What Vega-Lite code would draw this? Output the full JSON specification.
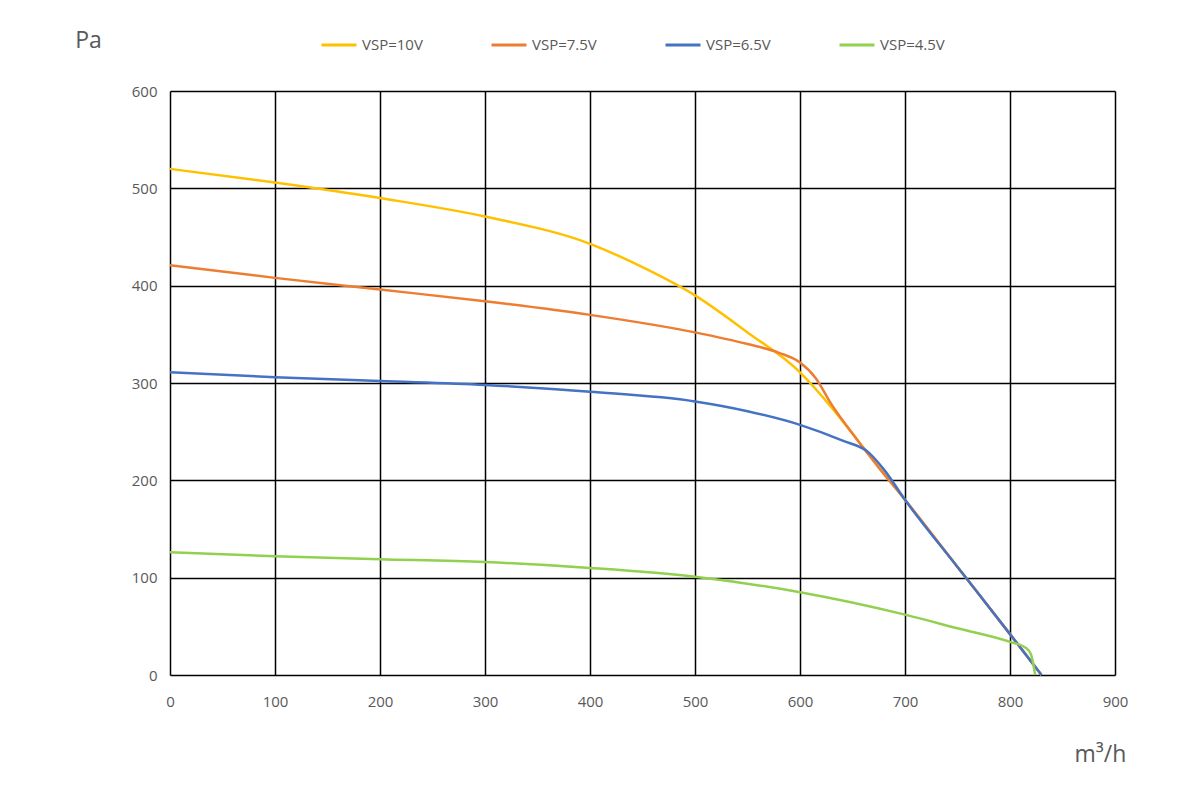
{
  "$schema": "https://vega.github.io/schema/vega-lite/v6.json",
  "autosize": "none",
  "width": 945,
  "height": 584,
  "padding": {"left": 170, "top": 91, "right": 85, "bottom": 125},
  "background": "white",
  "config": {
    "font": "Open Sans",
    "view": {"stroke": null},
    "axis": {
      "labelColor": "#595959",
      "labelFontSize": 15,
      "labelFlush": false,
      "titleColor": "#595959",
      "titleFontSize": 23,
      "titleFontWeight": "normal",
      "gridColor": "#000000",
      "gridOpacity": 1,
      "gridWidth": 1.5,
      "domain": false,
      "ticks": false
    }
  },
  "data": {
    "values": [
      {"series": "VSP=10V", "flow": 0, "pa": 520},
      {"series": "VSP=10V", "flow": 100, "pa": 506},
      {"series": "VSP=10V", "flow": 200, "pa": 490},
      {"series": "VSP=10V", "flow": 300, "pa": 471},
      {"series": "VSP=10V", "flow": 400, "pa": 443},
      {"series": "VSP=10V", "flow": 450, "pa": 419},
      {"series": "VSP=10V", "flow": 500, "pa": 390},
      {"series": "VSP=10V", "flow": 550, "pa": 352},
      {"series": "VSP=10V", "flow": 600, "pa": 311},
      {"series": "VSP=10V", "flow": 630, "pa": 275},
      {"series": "VSP=10V", "flow": 655, "pa": 241},
      {"series": "VSP=10V", "flow": 680, "pa": 207},
      {"series": "VSP=10V", "flow": 700, "pa": 180},
      {"series": "VSP=10V", "flow": 750, "pa": 111},
      {"series": "VSP=10V", "flow": 800, "pa": 42},
      {"series": "VSP=10V", "flow": 830, "pa": 0},
      {"series": "VSP=7.5V", "flow": 0, "pa": 421},
      {"series": "VSP=7.5V", "flow": 100, "pa": 408},
      {"series": "VSP=7.5V", "flow": 200, "pa": 396},
      {"series": "VSP=7.5V", "flow": 300, "pa": 384},
      {"series": "VSP=7.5V", "flow": 400, "pa": 370},
      {"series": "VSP=7.5V", "flow": 500, "pa": 352},
      {"series": "VSP=7.5V", "flow": 550, "pa": 340},
      {"series": "VSP=7.5V", "flow": 580, "pa": 331},
      {"series": "VSP=7.5V", "flow": 600, "pa": 321},
      {"series": "VSP=7.5V", "flow": 615, "pa": 305},
      {"series": "VSP=7.5V", "flow": 630, "pa": 278},
      {"series": "VSP=7.5V", "flow": 650, "pa": 248},
      {"series": "VSP=7.5V", "flow": 675, "pa": 213},
      {"series": "VSP=7.5V", "flow": 700, "pa": 180},
      {"series": "VSP=7.5V", "flow": 750, "pa": 111},
      {"series": "VSP=7.5V", "flow": 800, "pa": 42},
      {"series": "VSP=7.5V", "flow": 830, "pa": 0},
      {"series": "VSP=6.5V", "flow": 0, "pa": 311},
      {"series": "VSP=6.5V", "flow": 100, "pa": 306},
      {"series": "VSP=6.5V", "flow": 200, "pa": 302},
      {"series": "VSP=6.5V", "flow": 300, "pa": 298},
      {"series": "VSP=6.5V", "flow": 400, "pa": 291},
      {"series": "VSP=6.5V", "flow": 500, "pa": 281},
      {"series": "VSP=6.5V", "flow": 550, "pa": 271},
      {"series": "VSP=6.5V", "flow": 600, "pa": 257},
      {"series": "VSP=6.5V", "flow": 640, "pa": 241},
      {"series": "VSP=6.5V", "flow": 665, "pa": 229},
      {"series": "VSP=6.5V", "flow": 680, "pa": 211},
      {"series": "VSP=6.5V", "flow": 700, "pa": 180},
      {"series": "VSP=6.5V", "flow": 750, "pa": 111},
      {"series": "VSP=6.5V", "flow": 800, "pa": 42},
      {"series": "VSP=6.5V", "flow": 830, "pa": 0},
      {"series": "VSP=4.5V", "flow": 0, "pa": 126},
      {"series": "VSP=4.5V", "flow": 100, "pa": 122},
      {"series": "VSP=4.5V", "flow": 200, "pa": 119},
      {"series": "VSP=4.5V", "flow": 300, "pa": 116},
      {"series": "VSP=4.5V", "flow": 400, "pa": 110},
      {"series": "VSP=4.5V", "flow": 500, "pa": 101},
      {"series": "VSP=4.5V", "flow": 600, "pa": 85},
      {"series": "VSP=4.5V", "flow": 700, "pa": 62},
      {"series": "VSP=4.5V", "flow": 750, "pa": 48},
      {"series": "VSP=4.5V", "flow": 800, "pa": 34},
      {"series": "VSP=4.5V", "flow": 815, "pa": 28},
      {"series": "VSP=4.5V", "flow": 820, "pa": 21},
      {"series": "VSP=4.5V", "flow": 824, "pa": 0}
    ]
  },
  "mark": {"type": "line", "interpolate": "monotone", "strokeWidth": 2.5},
  "encoding": {
    "x": {
      "field": "flow",
      "type": "quantitative",
      "title": "m³/h",
      "scale": {"domain": [0, 900], "nice": false},
      "axis": {
        "values": [0, 100, 200, 300, 400, 500, 600, 700, 800, 900],
        "labelPadding": 19,
        "titleX": 930,
        "titleY": 79,
        "titleAlign": "center",
        "titleBaseline": "middle"
      }
    },
    "y": {
      "field": "pa",
      "type": "quantitative",
      "title": "Pa",
      "scale": {"domain": [0, 600], "nice": false},
      "axis": {
        "values": [0, 100, 200, 300, 400, 500, 600],
        "labelPadding": 13,
        "titleAngle": 0,
        "titleX": -82,
        "titleY": -51,
        "titleAlign": "center",
        "titleBaseline": "middle"
      }
    },
    "color": {
      "field": "series",
      "type": "nominal",
      "sort": null,
      "scale": {
        "domain": ["VSP=10V", "VSP=7.5V", "VSP=6.5V", "VSP=4.5V"],
        "range": ["#FFC000", "#ED7D31", "#4472C4", "#92D050"]
      },
      "legend": {
        "orient": "none",
        "direction": "horizontal",
        "legendX": 150,
        "legendY": -65,
        "title": null,
        "symbolType": "stroke",
        "symbolSize": 1225,
        "symbolStrokeWidth": 3,
        "labelFontSize": 15,
        "labelColor": "#595959",
        "columnPadding": 62
      }
    }
  }
}
